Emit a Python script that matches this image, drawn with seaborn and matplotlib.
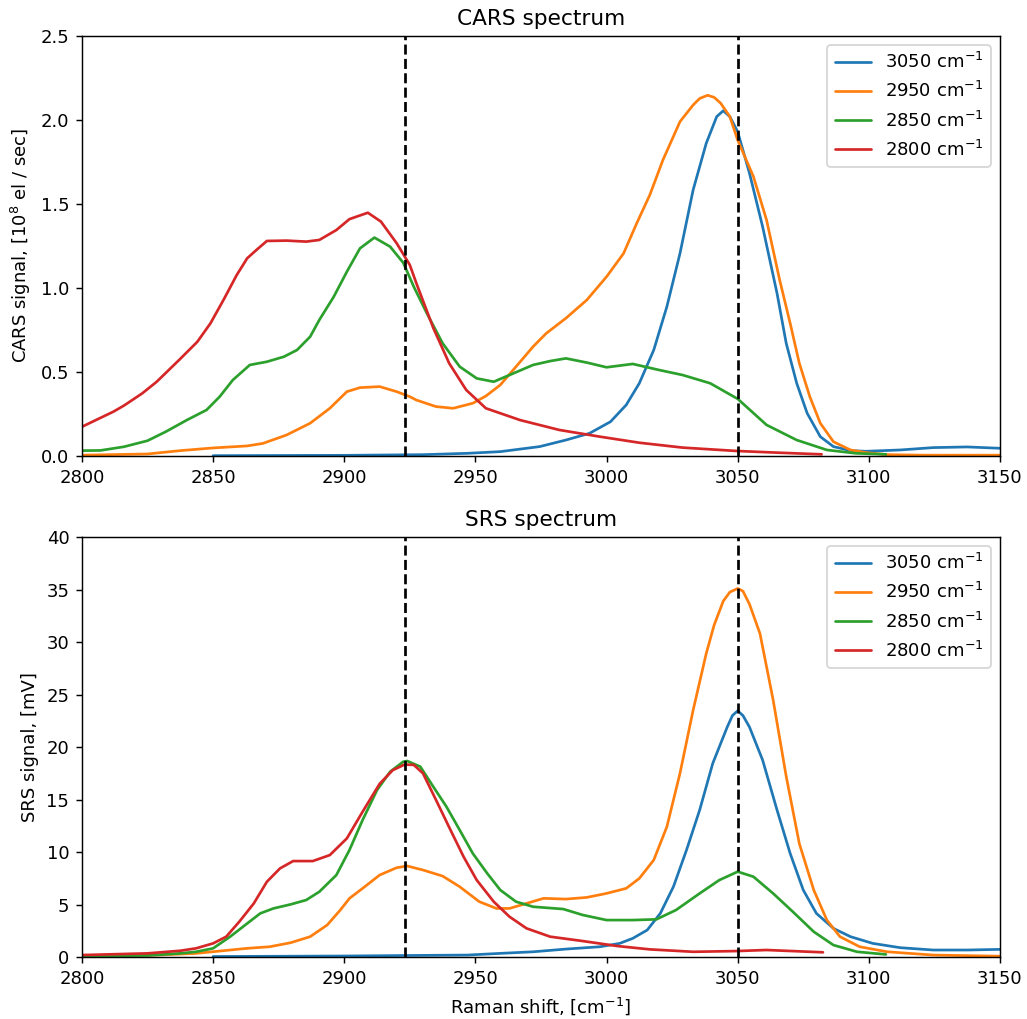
import matplotlib
matplotlib.use("Agg")
import matplotlib.pyplot as plt
import seaborn as sns
import pandas as pd

# ---------------- data ----------------
series_labels = ["3050 cm$^{-1}$", "2950 cm$^{-1}$", "2850 cm$^{-1}$", "2800 cm$^{-1}$"]
series_colors = ["#1f77b4", "#ff7f0e", "#2ca02c", "#d62728"]
marker_lines = [2923, 3050]

# CARS spectrum (10^8 el / sec)
cars_x_3050 = [2850, 2900, 2930, 2947, 2959.5, 2974.5, 2984.5, 2993.5, 3001.5, 3007.5, 3012.5, 3018, 3023,
               3028, 3033, 3038, 3042, 3044.5, 3047, 3050, 3054.5, 3059.5, 3065, 3068.5, 3072.5, 3076.5,
               3081.5, 3086.5, 3093, 3099, 3112, 3124.5, 3137.5, 3150]
cars_y_3050 = [0.002, 0.004, 0.008, 0.016, 0.026, 0.056, 0.095, 0.135, 0.204, 0.304, 0.433, 0.631, 0.889,
               1.206, 1.583, 1.861, 2.02, 2.055, 2.02, 1.93, 1.683, 1.365, 0.968, 0.671, 0.433, 0.254,
               0.115, 0.056, 0.032, 0.028, 0.036, 0.05, 0.054, 0.046]

cars_x_2950 = [2800, 2825, 2837.5, 2850, 2863, 2869, 2878, 2887, 2894.5, 2901, 2906, 2913.5, 2920, 2925,
               2927.5, 2935, 2941.5, 2949, 2954, 2959.5, 2965.5, 2972, 2977, 2984.5, 2992.5, 3000, 3006.5,
               3011.5, 3016.5, 3021.5, 3028, 3033, 3035.5, 3038.5, 3041, 3043.5, 3047, 3050, 3056, 3061,
               3066, 3070, 3073.5, 3077.5, 3081.5, 3086.5, 3093, 3099, 3107, 3120, 3150]
cars_y_2950 = [0.005, 0.012, 0.032, 0.048, 0.06, 0.075, 0.125, 0.195, 0.284, 0.383, 0.407, 0.413, 0.383, 0.353,
               0.333, 0.294, 0.284, 0.314, 0.357, 0.423, 0.532, 0.651, 0.73, 0.82, 0.929, 1.067, 1.206,
               1.385, 1.554, 1.762, 1.99, 2.089, 2.128, 2.147, 2.135, 2.1, 2.02, 1.88, 1.663, 1.405,
               1.048, 0.79, 0.552, 0.353, 0.195, 0.085, 0.036, 0.02, 0.008, 0.005, 0.005]

cars_x_2850 = [2800, 2807, 2816, 2825, 2832, 2840, 2847.5, 2852.5, 2857.5, 2864, 2870.5, 2877, 2882, 2887,
               2890.5, 2896, 2901, 2906, 2911.5, 2917.5, 2922.5, 2926.5, 2931.5, 2937.5, 2944, 2950.5, 2957,
               2963, 2972, 2978.5, 2984.5, 2992.5, 3000, 3010, 3020, 3029, 3039.5, 3050, 3061, 3072.5, 3084,
               3095, 3106.5]
cars_y_2850 = [0.032, 0.033, 0.055, 0.091, 0.145, 0.214, 0.274, 0.353, 0.452, 0.542, 0.561, 0.591, 0.631, 0.71,
               0.81, 0.948, 1.097, 1.236, 1.30, 1.246, 1.15, 1.008, 0.849, 0.671, 0.532, 0.462, 0.442,
               0.482, 0.542, 0.565, 0.581, 0.556, 0.528, 0.548, 0.512, 0.482, 0.433, 0.34, 0.185, 0.095, 0.036,
               0.016, 0.01]

cars_x_2800 = [2800, 2812, 2816, 2823, 2828.5, 2837, 2844, 2849, 2854, 2859, 2863, 2866.5, 2870.5, 2878,
               2885.5, 2890.5, 2897, 2902, 2909, 2914, 2920, 2925, 2927.5, 2934, 2940, 2946.5, 2954, 2967,
               2982, 2997.5, 3012.5, 3029, 3049.5, 3065, 3082]
cars_y_2800 = [0.174, 0.264, 0.30, 0.373, 0.442, 0.571, 0.68, 0.79, 0.93, 1.077, 1.177, 1.226, 1.28, 1.282,
               1.276, 1.286, 1.345, 1.41, 1.448, 1.395, 1.266, 1.137, 1.028, 0.76, 0.552, 0.393, 0.284, 0.214,
               0.155, 0.115, 0.079, 0.05, 0.03, 0.02, 0.01]

# SRS spectrum (mV)
srs_x_3050 = [2850, 2900, 2925, 2947, 2959.5, 2972, 2984.5, 2997.5, 3005, 3010, 3015.5, 3020.5, 3025.5,
              3030.5, 3035.5, 3040.5, 3046, 3048, 3050, 3052, 3054.5, 3059.5, 3065, 3070, 3075, 3080,
              3086.5, 3093, 3101.5, 3112, 3124.5, 3137.5, 3150]
srs_y_3050 = [0.05, 0.1, 0.15, 0.19, 0.35, 0.5, 0.76, 0.98, 1.3, 1.78, 2.57, 4.16, 6.7,
              10.2, 14.0, 18.45, 21.9, 23.0, 23.45, 23.0, 21.9, 18.76, 14.0, 9.87, 6.38, 4.16,
              2.73, 1.94, 1.3, 0.89, 0.67, 0.67, 0.73]

srs_x_2950 = [2800, 2830, 2843.5, 2852.5, 2863, 2871.5, 2879.5, 2887, 2893.5, 2898.5, 2902, 2907, 2913.5,
              2920, 2924, 2930, 2937.5, 2944, 2951.5, 2958, 2963, 2969.5, 2976, 2984.5, 2992.5, 3000, 3007.5,
              3012.5, 3018, 3023, 3028, 3033, 3038, 3041, 3044.5, 3047, 3050, 3052, 3054.5, 3058.5,
              3063.5, 3068.5, 3073.5, 3079, 3084, 3089, 3096.5, 3107, 3124.5, 3150]
srs_y_2950 = [0.1, 0.2, 0.35, 0.57, 0.83, 0.98, 1.36, 1.94, 3.05, 4.48, 5.59, 6.54, 7.81,
              8.51, 8.67, 8.29, 7.71, 6.7, 5.27, 4.63, 4.63, 5.11, 5.59, 5.52, 5.68, 6.06, 6.54,
              7.49, 9.24, 12.41, 17.5, 23.5, 28.9, 31.6, 33.9, 34.75, 35.1, 34.85, 33.6, 30.8,
              24.5, 17.2, 10.8, 6.38, 3.52, 1.94, 0.98, 0.5, 0.19, 0.08]

srs_x_2850 = [2800, 2825, 2837.5, 2843.5, 2850, 2856.5, 2863, 2868, 2873, 2879.5, 2885.5, 2890.5, 2897,
              2902, 2907, 2912.5, 2917.5, 2922.5, 2924, 2929, 2934, 2939, 2944, 2949, 2954.5, 2959.5,
              2965.5, 2972, 2983.5, 2991, 3000, 3010, 3019, 3026.5, 3035.5, 3043, 3050, 3056, 3063.5,
              3071, 3079, 3086.5, 3095.5, 3106.5]
srs_y_2850 = [0.1, 0.15, 0.35, 0.5, 0.83, 1.94, 3.2, 4.16, 4.63, 5.01, 5.43, 6.22, 7.81,
              10.2, 13.05, 15.9, 17.65, 18.6, 18.67, 18.13, 16.2, 14.3, 12.1, 9.87, 7.97, 6.38,
              5.27, 4.79, 4.57, 4.0, 3.52, 3.52, 3.59, 4.48, 6.06, 7.33, 8.13, 7.65, 6.06,
              4.32, 2.41, 1.14, 0.5, 0.25]

srs_x_2800 = [2800, 2825, 2837.5, 2843.5, 2850, 2855, 2860, 2865.5, 2870.5, 2875.5, 2880.5, 2888, 2894.5,
              2901, 2907, 2913.5, 2918.5, 2923, 2926.5, 2930, 2935, 2940.5, 2945.5, 2950.5, 2957, 2963,
              2969.5, 2978.5, 2991, 3004, 3016.5, 3033, 3049.5, 3061, 3082.5]
srs_y_2800 = [0.19, 0.35, 0.6, 0.83, 1.3, 1.94, 3.37, 5.1, 7.17, 8.44, 9.14, 9.14, 9.71,
              11.3, 13.84, 16.5, 17.8, 18.33, 18.3, 17.5, 14.95, 12.1, 9.55, 7.33, 5.27, 3.84,
              2.73, 1.94, 1.52, 1.05, 0.73, 0.5, 0.57, 0.67, 0.45]

x_ticks = [2800, 2850, 2900, 2950, 3000, 3050, 3100, 3150]
cars_yticks = [0.0, 0.5, 1.0, 1.5, 2.0, 2.5]
srs_yticks = [0, 5, 10, 15, 20, 25, 30, 35, 40]

cars_xs = [cars_x_3050, cars_x_2950, cars_x_2850, cars_x_2800]
cars_ys = [cars_y_3050, cars_y_2950, cars_y_2850, cars_y_2800]
srs_xs = [srs_x_3050, srs_x_2950, srs_x_2850, srs_x_2800]
srs_ys = [srs_y_3050, srs_y_2950, srs_y_2850, srs_y_2800]

# ---------------- plot ----------------
DPI = 130
fig = plt.figure(figsize=(1027 / DPI, 1019 / DPI), dpi=DPI)
ax1 = fig.add_axes([0.0798, 0.5525, 0.8939, 0.4122])
ax2 = fig.add_axes([0.0798, 0.0608, 0.8939, 0.4122])


def draw(ax, xs, ys, title, ylabel, yticks):
    for x, y, lab, col in zip(xs, ys, series_labels, series_colors):
        df = pd.DataFrame({"x": x, "y": y})
        sns.lineplot(data=df, x="x", y="y", ax=ax, color=col, label=lab, linewidth=1.5,
                     estimator=None, sort=False, solid_joinstyle="round", solid_capstyle="round")
    for xv in marker_lines:
        ax.axvline(xv, color="k", linestyle="--", linewidth=1.5)
    ax.set_xlim(x_ticks[0], x_ticks[-1])
    ax.set_ylim(yticks[0], yticks[-1])
    ax.set_xticks(x_ticks)
    ax.set_yticks(yticks)
    ax.set_title(title, fontsize=12)
    ax.set_ylabel(ylabel)
    ax.set_xlabel("")
    ax.legend(loc="upper right")


draw(ax1, cars_xs, cars_ys, "CARS spectrum", "CARS signal, [10$^8$ el / sec]", cars_yticks)
draw(ax2, srs_xs, srs_ys, "SRS spectrum", "SRS signal, [mV]", srs_yticks)
ax1.set_yticklabels([f"{v:.1f}" for v in cars_yticks])
ax2.set_xlabel("Raman shift, [cm$^{-1}$]")

fig.savefig("out.png", dpi=DPI)
